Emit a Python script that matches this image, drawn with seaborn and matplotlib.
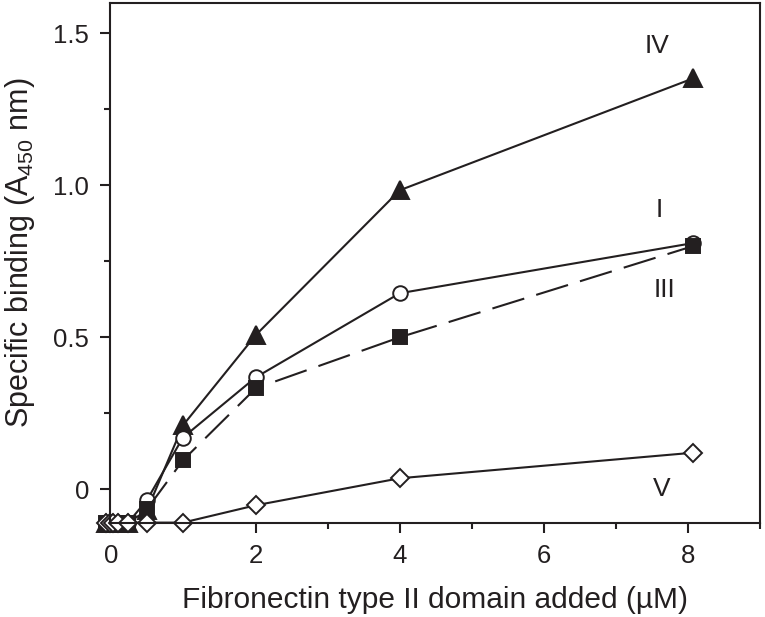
import matplotlib
matplotlib.use("Agg")
import matplotlib.pyplot as plt
import seaborn as sns
import pandas as pd
from matplotlib.ticker import MultipleLocator

sns.set_style("ticks")
plt.rcParams['font.family'] = ['Liberation Sans', 'DejaVu Sans']

ink = "#231f20"

# doses (uM); the first ones sit on the x axis
dose = [-0.08, -0.02, 0.02, 0.09, 0.23, 0.49, 0.99, 2.0, 4.0, 8.07]

# specific binding (A450) per construct
bind_I = [-0.11, -0.11, -0.11, -0.11, -0.11, -0.036, 0.17, 0.368, 0.645, 0.81]
bind_III = [-0.11, -0.11, -0.11, -0.11, -0.11, -0.066, 0.095, 0.332, 0.50, 0.80]
bind_IV = [-0.11, -0.11, -0.11, -0.11, -0.11, -0.07, 0.21, 0.507, 0.984, 1.352]
bind_V = [-0.11, -0.11, -0.11, -0.11, -0.11, -0.11, -0.11, -0.053, 0.036, 0.12]

labels = ["IV", "I", "III", "V"]
label_x = [7.57, 7.6, 7.67, 7.63]
label_y = [1.46, 0.92, 0.655, 0.0]

fig = plt.figure(figsize=(7.65, 6.17), dpi=100)
ax = fig.add_axes([0.144, 0.152, 0.8495, 0.843])

series = [
    ("IV", bind_IV, dict(marker="^", markersize=12.5, markerfacecolor=ink, linestyle="-")),
    ("I", bind_I, dict(marker="o", markersize=10.5, markerfacecolor="white", linestyle="-")),
    ("III", bind_III, dict(marker="s", markersize=9.5, markerfacecolor=ink, linestyle=(0, (16, 6)))),
    ("V", bind_V, dict(marker="D", markersize=9.3, markerfacecolor="white", linestyle="-")),
]

for name, vals, style in series:
    df = pd.DataFrame({"dose": dose, "binding": vals})
    sns.lineplot(data=df, x="dose", y="binding", ax=ax, color=ink, linewidth=1.5,
                 markeredgecolor=ink, markeredgewidth=1.4, estimator=None,
                 errorbar=None, sort=False, clip_on=False, **style)

for t, x, y in zip(labels, label_x, label_y):
    ax.text(x, y, t, fontsize=19, color=ink, ha="center", va="center")

ax.set_xlim(-0.02, 9.0)
ax.set_ylim(-0.112, 1.6)
ax.set_xticks([0, 2, 4, 6, 8])
ax.set_yticks([0, 0.5, 1.0, 1.5])
ax.set_yticklabels(["0", "0.5", "1.0", "1.5"])
ax.xaxis.set_minor_locator(MultipleLocator(1))
ax.yaxis.set_minor_locator(MultipleLocator(0.25))
ax.tick_params(which="major", length=7, width=1.5, color=ink, labelsize=18.5,
               labelcolor=ink, direction="out", pad=8)
ax.tick_params(which="minor", length=4, width=1.5, color=ink, direction="out")

for sp in ax.spines.values():
    sp.set_linewidth(1.5)
    sp.set_color(ink)
    sp.set_visible(True)

ax.set_xlabel("Fibronectin type II domain added (\u00b5M)", fontsize=21.5, color=ink, labelpad=13)
ax.set_ylabel("Specific binding (A$_{\\mathregular{450}}$ nm)", fontsize=22, color=ink)
ax.yaxis.set_label_coords(-0.113, 0.52)

fig.savefig("out.png", dpi=100)
